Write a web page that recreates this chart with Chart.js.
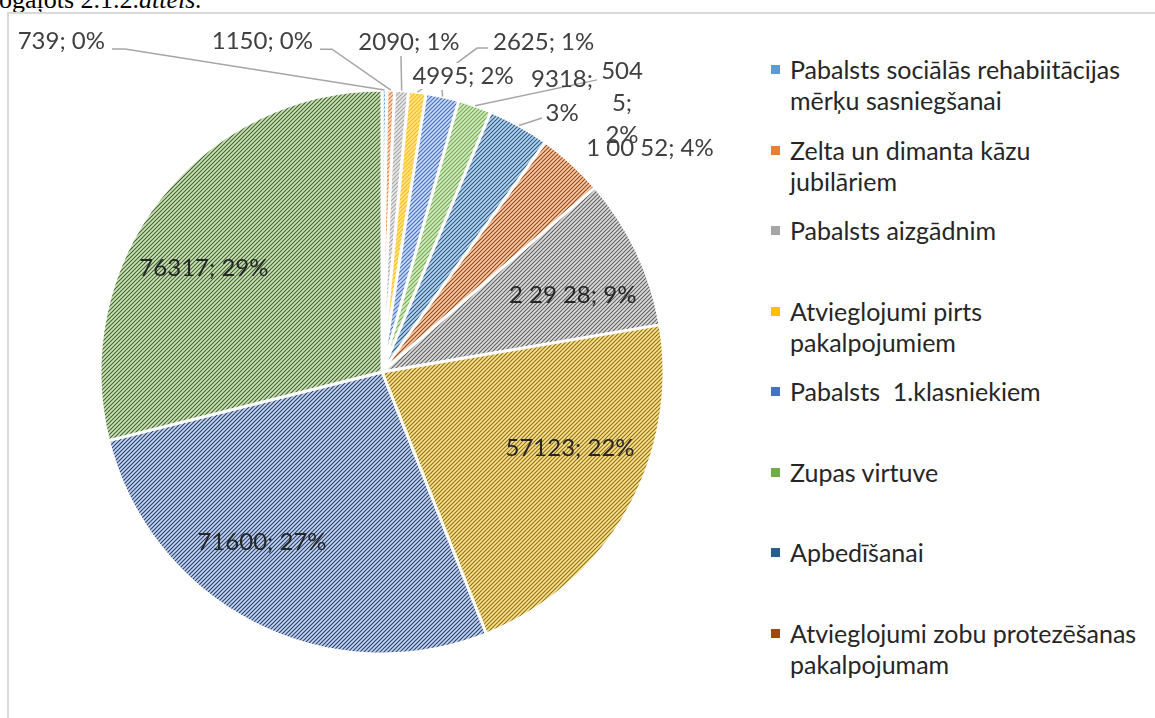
<!DOCTYPE html>
<html>
<head>
<meta charset="utf-8">
<script src="https://cdn.jsdelivr.net/npm/chart.js@4"></script>
<style>
  html, body { margin: 0; padding: 0; background: #fff; }
  body { width: 1155px; height: 718px; overflow: hidden; position: relative; font-family: Lato, sans-serif; }
  .caption { position: absolute; left: -1px; top: -15px; font: 26px "Liberation Serif", serif; color: #000; white-space: nowrap; }
  .frame { position: absolute; left: 7px; top: 12px; width: 1160px; height: 720px; border-left: 2px solid #d9d9d9; border-top: 2px solid #d9d9d9; }
  .chart-box { position: absolute; left: 8px; top: 12px; width: 748px; height: 706px; }
  #legend { position: absolute; left: 771px; top: 54px; }
  #legend .item { position: relative; height: 80.5px; }
  #legend .box { position: absolute; left: 0; top: 11px; width: 9px; height: 9px; }
  #legend .txt { position: absolute; left: 19px; top: 0; font-size: 25px; line-height: 31px; color: #262626; white-space: pre; }
</style>
</head>
<body>
<div class="caption">ogaļots 2.1.2.<i>attēls.</i></div>
<div class="frame"></div>
<div class="chart-box"><canvas id="pie"></canvas></div>
<div id="legend"></div>
<script>
// values, clockwise from 12 o'clock
const values = [739, 1150, 2090, 2625, 4995, 5045, 9318, 10052, 22928, 57123, 71600, 76317];
const labelTexts = ['739; 0%', '1150; 0%', '2090; 1%', '2625; 1%', '4995; 2%', ['504', '5;', '2%'],
  ['9318;', '3%'], '1 00 52; 4%', '2 29 28; 9%', '57123; 22%', '71600; 27%', '76317; 29%'];
// legend names (only the first 8 are visible in the original)
const categories = [
  ['Pabalsts sociālās rehabiitācijas', 'mērķu sasniegšanai'],
  ['Zelta un dimanta kāzu', 'jubilāriem'],
  ['Pabalsts aizgādnim'],
  ['Atvieglojumi pirts', 'pakalpojumiem'],
  ['Pabalsts  1.klasniekiem'],
  ['Zupas virtuve'],
  ['Apbedīšanai'],
  ['Atvieglojumi zobu protezēšanas', 'pakalpojumam'],
  [''], [''], [''], ['']
];

// hatch colours: stripe colour / background colour
const stripe = ['#5B9BD5', '#ED7D31', '#A5A5A5', '#FFC000', '#4472C4', '#70AD47', '#255E91', '#9E480E', '#636363', '#997300', '#264478', '#43682B'];
const under = ['#dde9f6', '#fcdcc6', '#e8e8e8', '#ffe48f', '#cbd9f1', '#d6eac9', '#bdd3ea', '#f6cdb0', '#dcdcdc', '#f7e29c', '#c7d4ec', '#cde2bd'];

function hatch(fg, bg) {
  const c = document.createElement('canvas');
  c.width = 4; c.height = 4;
  const g = c.getContext('2d');
  g.fillStyle = bg;
  g.fillRect(0, 0, 4, 4);
  g.strokeStyle = fg;
  g.lineWidth = 1.15;
  g.beginPath();
  g.moveTo(-1, 5); g.lineTo(5, -1);
  g.moveTo(-3, 3); g.lineTo(3, -3);
  g.moveTo(1, 7); g.lineTo(7, 1);
  g.stroke();
  return g.createPattern(c, 'repeat');
}

// where each label sits, relative to its slice anchor
const spots = [
  {dx: -279.5, dy: -49, align: 'right', leader: [[-272.5, -41], [-259.5, -41]]},
  {dx: -77.8, dy: -49, align: 'right', leader: [[-70.8, -41], [-58.8, -41]]},
  {dx: 7.3, dy: -48.7, align: 'center', leader: [[-0.7, -34.7]]},
  {dx: 75.6, dy: -50.2, align: 'left', leader: [[70.6, -44.2], [59.6, -44.2]]},
  {dx: 20.4, dy: -20.6, align: 'center', mask: true, leader: [[-0.6, -6.6]]},
  {dx: 147, dy: -34.9, align: 'center', gap: 32, leader: [[122, -25.9]]},
  {dx: 43.1, dy: -46.4, align: 'center', gap: 34, leader: [[23.1, -7.4]]},
  {dx: 78.4, dy: -15.4, align: 'center'},
  {inside: true, dx: 7, dy: 10, align: 'center'},
  {inside: true, dx: 11, dy: -23, align: 'center'},
  {inside: true, dx: -27.5, dy: -10.7, align: 'center'},
  {inside: true, dx: -18, dy: 21, align: 'center'}
];

const sliceLabels = {
  id: 'sliceLabels',
  afterDatasetsDraw(chart) {
    const ctx = chart.ctx;
    const arcs = chart.getDatasetMeta(0).data;
    const anchors = arcs.map((arc, i) => {
      const p = arc.getProps(['x', 'y', 'startAngle', 'endAngle', 'outerRadius'], true);
      const mid = (p.startAngle + p.endAngle) / 2;
      const r = spots[i].inside ? p.outerRadius * 0.72 : p.outerRadius;
      return {x: p.x + Math.cos(mid) * r, y: p.y + Math.sin(mid) * r};
    });
    ctx.save();
    ctx.strokeStyle = '#a6a6a6';
    ctx.lineWidth = 1.5;
    anchors.forEach((a, i) => {
      const pts = spots[i].leader;
      if (!pts) return;
      ctx.beginPath();
      ctx.moveTo(a.x + pts[0][0], a.y + pts[0][1]);
      pts.slice(1).forEach(p => ctx.lineTo(a.x + p[0], a.y + p[1]));
      ctx.lineTo(a.x, a.y);
      ctx.stroke();
    });
    ctx.font = '24px Lato';
    ctx.textBaseline = 'middle';
    anchors.forEach((a, i) => {
      const s = spots[i];
      const lines = Array.isArray(labelTexts[i]) ? labelTexts[i] : [labelTexts[i]];
      const x = a.x + s.dx, y = a.y + s.dy;
      ctx.textAlign = s.align;
      lines.forEach((t, k) => {
        const ly = y + k * (s.gap || 28);
        if (s.mask) {
          const w = ctx.measureText(t).width;
          const left = s.align === 'center' ? x - w / 2 : (s.align === 'right' ? x - w : x);
          ctx.fillStyle = '#fff';
          ctx.fillRect(left - 2, ly - 13, w + 4, 26);
        }
        ctx.fillStyle = s.inside ? '#262626' : '#404040';
        ctx.fillText(t, x, ly);
      });
    });
    ctx.restore();
  }
};

const chart = new Chart(document.getElementById('pie'), {
  type: 'pie',
  data: {
    labels: categories,
    datasets: [{
      data: values,
      backgroundColor: stripe.map((c, i) => hatch(c, under[i])),
      borderColor: '#ffffff',
      borderWidth: 3
    }]
  },
  options: {
    responsive: true,
    maintainAspectRatio: false,
    animation: false,
    radius: 282,
    layout: {padding: {top: 14}},
    plugins: {
      legend: {display: false},
      tooltip: {enabled: false}
    }
  },
  plugins: [sliceLabels]
});

// html legend, first 8 entries as in the original
const legendBox = document.getElementById('legend');
chart.data.labels.forEach((lines, i) => {
  if (!lines[0]) return;
  const item = document.createElement('div');
  item.className = 'item';
  item.innerHTML = '<span class="box" style="background:' + stripe[i] + '"></span>' +
    '<span class="txt">' + lines.join('\n') + '</span>';
  legendBox.appendChild(item);
});
</script>
</body>
</html>
